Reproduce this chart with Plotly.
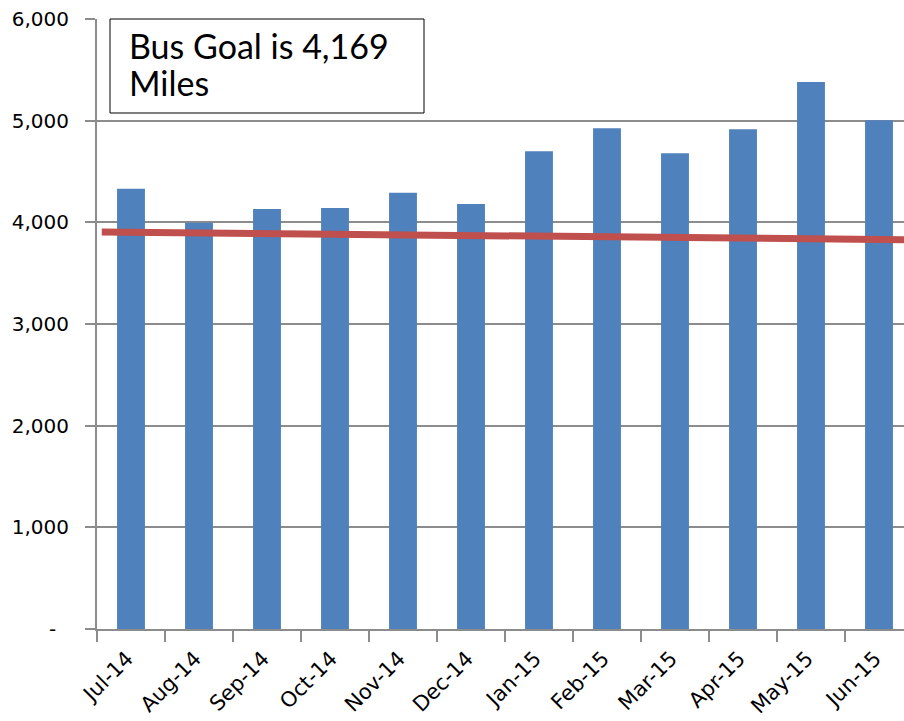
import plotly.graph_objects as go

months = ["Jul-14", "Aug-14", "Sep-14", "Oct-14", "Nov-14", "Dec-14",
          "Jan-15", "Feb-15", "Mar-15", "Apr-15", "May-15", "Jun-15"]
miles = [4330, 3995, 4130, 4140, 4290, 4180, 4700, 4925, 4680, 4915, 5380, 5005]

trend_x = [-0.43, 11.5]
trend_y = [3905, 3829]

y_tickvals = [0, 1000, 2000, 3000, 4000, 5000, 6000]
y_ticktext = ["-\u00a0\u00a0", "1,000", "2,000", "3,000", "4,000", "5,000", "6,000"]

goal_line1 = "Bus Goal is 4,169"
goal_line2 = "Miles"

W, H = 904, 721
L, T, R, B = 97, 19, 0, 92
pw, ph = W - L - R, H - T - B
x_range = [-0.5, -0.5 + pw / 68.0]

def px(x):
    return (x - L) / pw

def py(y):
    return (H - B - y) / ph

fig = go.Figure()
fig.add_trace(go.Bar(x=months, y=miles, marker=dict(color="#4F81BD", line=dict(width=0)),
                     width=0.41, showlegend=False, hoverinfo="x+y"))
fig.add_trace(go.Scatter(x=trend_x, y=trend_y, xaxis="x2", mode="lines",
                         line=dict(color="#C0504D", width=7), showlegend=False))

tick_font = "'DejaVu Sans', Verdana, sans-serif"
box_font = "Lato, 'Open Sans', sans-serif"
fig.update_layout(
    width=W, height=H,
    margin=dict(l=L, r=R, t=T, b=B, autoexpand=False),
    paper_bgcolor="white", plot_bgcolor="white",
    font=dict(family=tick_font, size=20, color="black"),
    xaxis=dict(type="category", range=x_range, tickson="boundaries",
               ticks="outside", ticklen=11, tickwidth=2, tickcolor="#8c8c8c",
               showline=True, linecolor="#8c8c8c", linewidth=2,
               showgrid=False, tickangle=-45, ticklabelstandoff=7, ticklabelshift=-4,
               tickfont=dict(size=21, family=tick_font, color="black"),
               fixedrange=True),
    xaxis2=dict(type="linear", range=x_range, overlaying="x", visible=False, fixedrange=True),
    yaxis=dict(range=[0, 6000], tickvals=y_tickvals, ticktext=y_ticktext,
               ticks="outside", ticklen=10, tickwidth=2, tickcolor="#8c8c8c",
               showline=True, linecolor="#8c8c8c", linewidth=2,
               showgrid=True, gridcolor="#8c8c8c", gridwidth=1.5,
               zeroline=False, ticklabelstandoff=12,
               tickfont=dict(size=20, family=tick_font, color="black"), fixedrange=True),
    shapes=[dict(type="rect", xref="paper", yref="paper",
                 x0=px(110), x1=px(424), y0=py(113), y1=py(19),
                 line=dict(color="black", width=1), fillcolor="white", layer="above")],
    annotations=[
        dict(text=goal_line1, xref="paper", yref="paper", x=px(127), y=py(45),
             xanchor="left", yanchor="middle", showarrow=False,
             font=dict(size=34, family=box_font, color="black")),
        dict(text=goal_line2, xref="paper", yref="paper", x=px(127), y=py(82),
             xanchor="left", yanchor="middle", showarrow=False,
             font=dict(size=34, family=box_font, color="black")),
    ],
)

fig.write_html("out.html", config={"displayModeBar": False},
               post_script="document.body.style.margin='0';")
